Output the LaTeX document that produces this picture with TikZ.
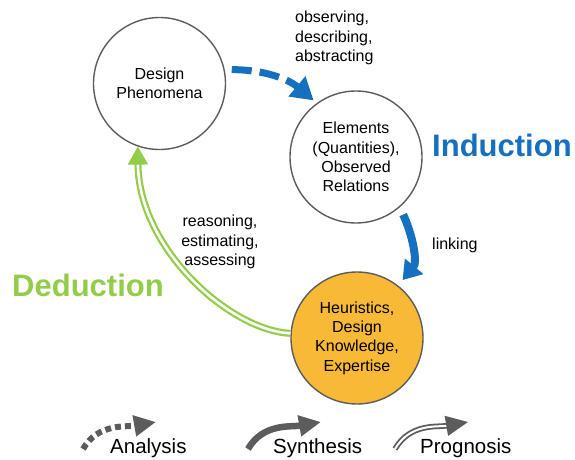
\documentclass[tikz,border=0pt]{standalone}
\usepackage{fontspec}
\setmainfont{Liberation Sans}
\usetikzlibrary{arrows.meta}
\definecolor{myblue}{RGB}{22,112,192}
\definecolor{mygreen}{RGB}{146,204,72}
\definecolor{myorange}{RGB}{248,186,54}
\definecolor{mygray}{RGB}{92,92,92}

\begin{document}
\begin{tikzpicture}[x=1pt,y=1pt,
  stage/.style={circle,draw=mygray,line width=1.4pt,minimum size=132pt,inner sep=0pt,
    align=center,font=\fontsize{16}{19.3}\selectfont},
  note/.style={inner sep=0pt,font=\fontsize{16}{19.5}\selectfont},
  mode/.style={anchor=west,inner sep=0pt,font=\fontsize{31}{31}\selectfont\bfseries},
  keyhead/.style={-{Triangle[length=22pt,width=20pt]}},
  ana/.style={mygray,line width=6pt,dash pattern=on 6pt off 4pt,keyhead},
  syn/.style={mygray,line width=6.5pt,keyhead},
  prog/.style={mygray,line width=1.8pt,double=white,double distance=2pt,keyhead}]
\useasboundingbox (0,0) rectangle (575,459);
% the three stages
\node[stage] (phen) at (159.5,375.5) {Design\\Phenomena};
\node[stage] (elem) at (356,302) {Elements\\(Quantities),\\Observed\\Relations};
\node[stage,fill=myorange] (heur) at (357,121) {Heuristics,\\Design\\Knowledge,\\Expertise};
% induction arrows
\draw[myblue,line width=7pt,dash pattern=on 20pt off 8pt,-{Triangle[length=22pt,width=25pt]},
  shorten <=7pt,shorten >=4pt]
  (phen.12) to[out=0,in=140] (elem.126);
\draw[myblue,line width=8pt,-{Triangle[length=18pt,width=23pt]},shorten <=8pt,shorten >=7pt]
  (elem.-49) to[out=-65,in=50] (heur.52);
% deduction arrow
\draw[mygreen,line width=2.2pt,double=white,double distance=2.6pt,-{Triangle[length=18pt,width=20pt]}]
  (heur.176) .. controls +(-61,3) and +(1,-102) .. (phen.-109);
% labels
\node[note,anchor=west,align=left] (obs) at (295,421) {observing,\\describing,\\abstracting};
\node[note,anchor=west] (link) at (432,214) {linking};
\node[note,align=center] (reas) at (220,217) {reasoning,\\estimating,\\assessing};
\node[mode,myblue] (ind) at (432,314) {Induction};
\node[mode,mygreen] (ded) at (12,174) {Deduction};
% legend
\foreach \x/\sty/\txt/\tx in {83/ana/Analysis/110,248/syn/Synthesis/273,395/prog/Prognosis/420}{
  \coordinate (\sty-a) at (\x,10);
  \coordinate (\sty-b) at (\x+73,37);
  \draw[\sty] (\sty-a) to[out=60,in=190] (\sty-b);
  \node[anchor=base west,inner sep=0pt,font=\fontsize{20.5}{20.5}\selectfont] (\sty-t) at (\tx,6) {\txt};
}
\end{tikzpicture}
\end{document}
